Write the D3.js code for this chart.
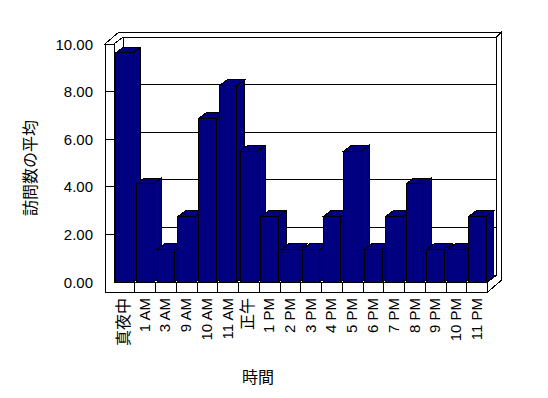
<!DOCTYPE html>
<html>
<head>
<meta charset="utf-8">
<script src="https://cdn.jsdelivr.net/npm/d3@7"></script>
<style>
  body { margin: 0; background: #fff; }
  text { font-family: "Liberation Sans", "Noto Sans CJK JP", sans-serif; fill: #000; }
</style>
</head>
<body>
<div id="plot"></div>
<script>
const categories = ["真夜中", "1 AM", "3 AM", "9 AM", "10 AM", "11 AM", "正午", "1 PM", "2 PM",
  "3 PM", "4 PM", "5 PM", "6 PM", "7 PM", "8 PM", "9 PM", "10 PM", "11 PM"];
const visits = [9.625, 4.125, 1.375, 2.75, 6.875, 8.25, 5.5, 2.75, 1.375,
  1.375, 2.75, 5.5, 1.375, 2.75, 4.125, 1.375, 1.375, 2.75];
const yTicks = [0, 2, 4, 6, 8, 10];
const yTitle = "訪問数の平均";
const xTitle = "時間";

window.addEventListener("load", main);

function main() {
  const width = 548, height = 398;

  // front plane of the plot box
  const L = 114, R = 487.7, B = 282, T = 44;
  const dx = 9, dy = -7;         // depth of the plot box
  const bx = 5, by = -5;         // back wall thickness
  const wallW = 9, floorH = 10;  // side wall / floor thickness
  const barDx = 7.6, barDy = -5.7;

  const x = d3.scaleBand().domain(categories).range([L, R]);
  const y = d3.scaleLinear().domain([0, 10]).range([B, T]);

  const svg = d3.select("#plot").append("svg")
    .attr("width", width)
    .attr("height", height);

  const line = d3.line();
  function poly(g, pts, fill) {
    return g.append("path")
      .attr("d", line(pts) + "Z")
      .attr("fill", fill)
      .attr("stroke", "#000")
      .attr("stroke-width", 1)
      .attr("shape-rendering", "crispEdges");
  }

  const walls = svg.append("g");

  // back wall front face
  poly(walls, [[L + dx, T + dy], [R + dx, T + dy], [R + dx, B + dy], [L + dx, B + dy]], "#fff");
  // left wall inner face
  poly(walls, [[L, T], [L + dx, T + dy], [L + dx, B + dy], [L, B]], "#fff");
  // floor top
  poly(walls, [[L, B], [R, B], [R + dx, B + dy], [L + dx, B + dy]], "#fff");

  // gridlines on back wall and side wall
  const grid = walls.append("g").attr("stroke", "#000").attr("shape-rendering", "crispEdges");
  grid.selectAll("line.back")
    .data(yTicks.filter(v => v > 0 && v < 10))
    .join("line")
    .attr("class", "back")
    .attr("x1", L + dx).attr("x2", R + dx)
    .attr("y1", d => y(d) + dy).attr("y2", d => y(d) + dy);
  grid.selectAll("line.side")
    .data(yTicks.filter(v => v > 0 && v < 10))
    .join("line")
    .attr("class", "side")
    .attr("x1", L).attr("x2", L + dx)
    .attr("y1", d => y(d)).attr("y2", d => y(d) + dy);

  // bars, left to right so each front covers the previous side
  const bars = svg.append("g");
  const bw = x.bandwidth() * 0.85, off = 1.5;
  categories.forEach((c, i) => {
    const x0 = x(c) + off, x1 = x0 + bw, y0 = y(visits[i]), y1 = B;
    const g = bars.append("g");
    poly(g, [[x1, y0], [x1 + barDx, y0 + barDy], [x1 + barDx, y1 + barDy], [x1, y1]], "#000080");
    poly(g, [[x0, y0], [x1, y0], [x1 + barDx, y0 + barDy], [x0 + barDx, y0 + barDy]], "#000080");
    poly(g, [[x0, y0], [x1, y0], [x1, y1], [x0, y1]], "#000080");
  });

  const front = svg.append("g");
  // left wall + floor front faces
  poly(front, [[L - wallW, T], [L, T], [L, B], [R, B], [R, B + floorH], [L - wallW, B + floorH]], "#fff");
  // top faces of side and back wall
  poly(front, [[L - wallW, T], [L, T], [L + dx, T + dy], [R + dx, T + dy],
    [R + dx + bx, T + dy + by], [L - wallW + dx + bx, T + dy + by]], "#fff");
  // right faces of back wall and floor
  poly(front, [[R + dx, T + dy], [R + dx + bx, T + dy + by], [R + dx + bx, B + floorH + dy + by],
    [R, B + floorH], [R, B], [R + dx, B + dy]], "#fff");

  // ticks on side wall front, dividers on floor front
  front.append("g").attr("stroke", "#000").attr("shape-rendering", "crispEdges")
    .selectAll("line")
    .data(yTicks.filter(v => v > 0 && v < 10))
    .join("line")
    .attr("x1", L - wallW).attr("x2", L)
    .attr("y1", d => y(d)).attr("y2", d => y(d));
  front.append("g").attr("stroke", "#000").attr("shape-rendering", "crispEdges")
    .selectAll("line")
    .data(categories.slice(1))
    .join("line")
    .attr("x1", d => x(d)).attr("x2", d => x(d))
    .attr("y1", B).attr("y2", B + floorH);

  // y tick labels
  svg.append("g").selectAll("text")
    .data(yTicks)
    .join("text")
    .attr("x", 93)
    .attr("y", d => y(d))
    .attr("text-anchor", "end")
    .attr("dominant-baseline", "central")
    .style("font-size", "15px")
    .text(d3.format(".2f"));

  // category labels, rotated
  svg.append("g").selectAll("text")
    .data(categories)
    .join("text")
    .attr("transform", d => `translate(${x(d) + x.bandwidth() / 2 - 1},${B + floorH + 6}) rotate(-90)`)
    .attr("text-anchor", "end")
    .attr("dominant-baseline", "central")
    .style("font-size", d => /[^\x00-\x7f]/.test(d) ? "16px" : "15px")
    .text(d => d);

  svg.append("text")
    .attr("x", 258).attr("y", 377)
    .attr("text-anchor", "middle")
    .attr("dominant-baseline", "central")
    .style("font-size", "16px")
    .text(xTitle);

  svg.append("text")
    .attr("transform", "translate(30,168) rotate(-90)")
    .attr("text-anchor", "middle")
    .attr("dominant-baseline", "central")
    .style("font-size", "16px")
    .text(yTitle);
}
</script>
</body>
</html>
